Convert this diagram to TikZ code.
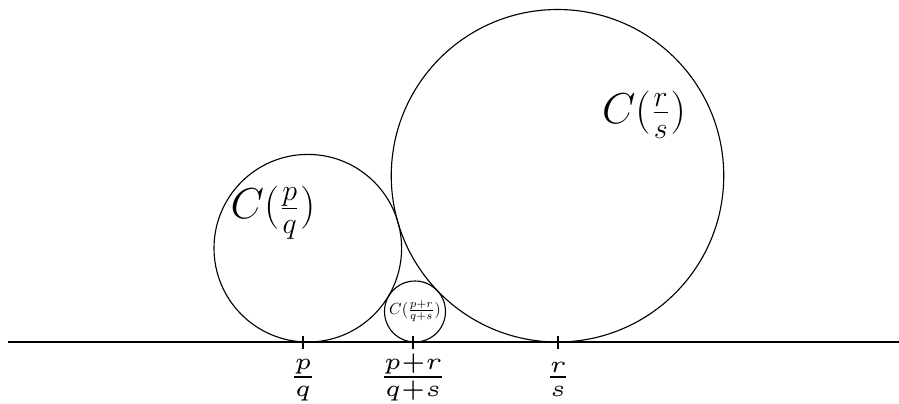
\documentclass[tikz,border=0pt]{standalone}
\begin{document}
\begin{tikzpicture}[x=0.4pt,y=-0.4pt,
  ford/.style={draw,circle,inner sep=0pt,line width=0.45pt},
  tickmark/.style={line width=0.45pt},
  biglabel/.style={font=\fontsize{17.5}{20}\selectfont,inner sep=0pt},
  smalllabel/.style={font=\normalsize,inner sep=0pt,scale=0.64},
  pointlabel/.style={font=\scriptsize,anchor=base,inner sep=0pt,scale=1.88}]
\useasboundingbox (0,0) rectangle (899,403);
% axis
\coordinate (L) at (8,342);
\coordinate (R) at (899,342);
\draw[line width=0.45pt] (L) -- (R);
% Ford circles
\node[ford,minimum size=75.04pt] (cA) at (307.8,248.2) {};
\node[ford,minimum size=133pt] (cB) at (557.5,175.75) {};
\node[ford,minimum size=24.4pt] (cM) at (415,311.5) {};
% labels in circles
\node[biglabel] (lA) at (273,213) {$C(\frac{p}{q})$};
\node[biglabel] (lB) at (644,115) {$C(\frac{r}{s})$};
\node[smalllabel] (lM) at (415,311) {$C(\frac{p+r}{q+s})$};
% ticks
\coordinate (tA1) at (303,336); \coordinate (tA2) at (303,349);
\coordinate (tM1) at (413,336); \coordinate (tM2) at (413,349);
\coordinate (tB1) at (558,336); \coordinate (tB2) at (558,349);
\draw[tickmark] (tA1) -- (tA2);
\draw[tickmark] (tM1) -- (tM2);
\draw[tickmark] (tB1) -- (tB2);
% point labels
\node[pointlabel] (pA) at (303,385) {$\frac{p}{q}$};
\node[pointlabel] (pM) at (413,385) {$\frac{p+r}{q+s}$};
\node[pointlabel] (pB) at (558,385) {$\frac{r}{s}$};
\end{tikzpicture}
\end{document}
